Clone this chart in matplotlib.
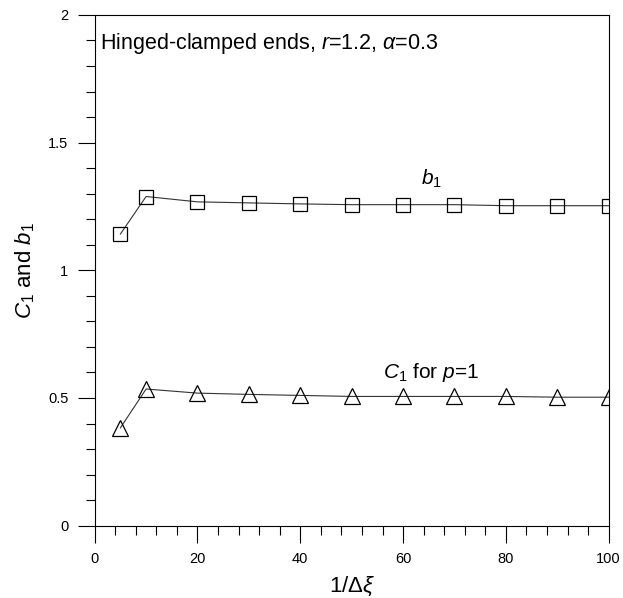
import matplotlib
matplotlib.use("Agg")
import matplotlib.pyplot as plt
from matplotlib.ticker import MultipleLocator

plt.rcParams["font.family"] = ["Liberation Sans", "DejaVu Sans"]
plt.rcParams["mathtext.fontset"] = "custom"
plt.rcParams["mathtext.rm"] = "Liberation Sans"
plt.rcParams["mathtext.it"] = "Liberation Sans:italic"

# data
inv_dxi = [5, 10, 20, 30, 40, 50, 60, 70, 80, 90, 100]
b1 = [1.142, 1.289, 1.268, 1.264, 1.260, 1.257, 1.257, 1.257, 1.253, 1.253, 1.253]
c1 = [0.383, 0.535, 0.519, 0.514, 0.510, 0.506, 0.506, 0.506, 0.506, 0.503, 0.503]
yticks = [0, 0.5, 1, 1.5, 2]
ytick_labels = ["0", "0.5", "1", "1.5", "2"]

fig = plt.figure(figsize=(6.23, 5.98), dpi=100)
ax = fig.add_axes([0.152, 0.121, 0.825, 0.854])

ax.plot(inv_dxi, b1, color="#333333", lw=0.8, marker="s", ms=9.5,
        mfc="none", mec="black", mew=0.9)
ax.plot(inv_dxi, c1, color="#333333", lw=0.8, marker="^", ms=11,
        mfc="none", mec="black", mew=0.9)

ax.set_xlim(0, 100)
ax.set_ylim(0, 2)
ax.xaxis.set_major_locator(MultipleLocator(20))
ax.xaxis.set_minor_locator(MultipleLocator(4))
ax.yaxis.set_minor_locator(MultipleLocator(0.1))
ax.set_yticks(yticks)
ax.set_yticklabels(ytick_labels)

ax.tick_params(which="major", direction="out", length=12, width=0.8,
               labelsize=10.5, pad=7)
ax.tick_params(which="minor", direction="out", length=6.5, width=0.8)
for lab in ax.get_xticklabels() + ax.get_yticklabels():
    lab.set_family(["Liberation Sans Narrow", "Liberation Sans"])
for s in ax.spines.values():
    s.set_linewidth(0.8)

ax.text(0.01, 0.945, r"Hinged-clamped ends, $r$=1.2, $\alpha$=0.3",
        transform=ax.transAxes, fontsize=15.5, va="center", ha="left")
ax.text(63.5, 1.36, r"$b_1$", fontsize=15, va="center")
ax.text(56, 0.6, r"$C_1$ for $p$=1", fontsize=15, va="center")

ax.set_ylabel(r"$C_1$ and $b_1$", fontsize=16, labelpad=8)
ax.set_xlabel(r"1/$\Delta\xi$", fontsize=16, labelpad=6)

fig.savefig("out.png", dpi=100)
